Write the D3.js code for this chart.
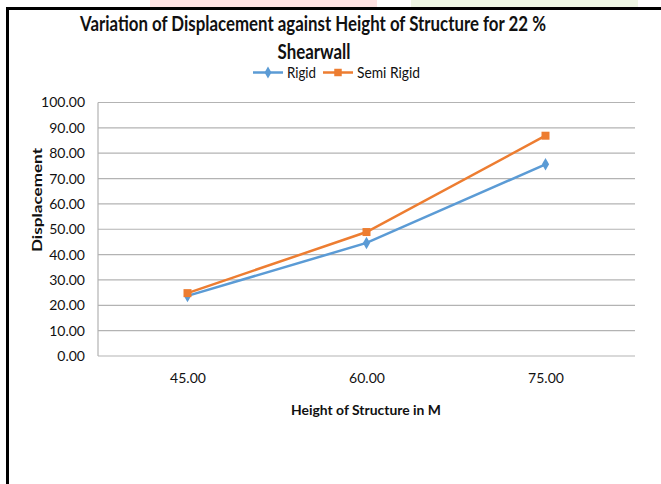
<!DOCTYPE html>
<html><head><meta charset="utf-8">
<script src="https://cdn.jsdelivr.net/npm/d3@7"></script>
<style>body{margin:0;background:#fff}svg{display:block}</style>
</head><body>
<script>
const categories = ["45.00", "60.00", "75.00"];
const rigid = [23.7, 44.6, 75.6];
const semiRigid = [24.8, 48.9, 86.9];
const yTicks = [0,10,20,30,40,50,60,70,80,90,100];
const titleLines = ["Variation of Displacement against Height of Structure for 22 %", "Shearwall"];

const W = 661, H = 484;
const font = "Lato, 'Open Sans', sans-serif";
const svg = d3.select("body").append("svg").attr("width", W).attr("height", H);

// faint watermark strip above border
svg.append("rect").attr("x",150).attr("y",0).attr("width",227).attr("height",7).attr("fill","#fde2e2");
svg.append("rect").attr("x",411).attr("y",0).attr("width",227).attr("height",7).attr("fill","#eef6e4");

// border
svg.append("rect").attr("x",6).attr("y",7).attr("width",W).attr("height",3).attr("fill","#000");
svg.append("rect").attr("x",6).attr("y",7).attr("width",3).attr("height",H).attr("fill","#000");

const x = d3.scalePoint().domain(categories).range([98, 635]).padding(0.5);
const y = d3.scaleLinear().domain([0, 100]).range([356, 102.5]);

// gridlines
svg.append("g").selectAll("line").data(yTicks).join("line")
  .attr("x1", 98).attr("x2", 635)
  .attr("y1", d => y(d)).attr("y2", d => y(d))
  .attr("stroke", "#b3b3b3").attr("stroke-width", 1.2);
svg.append("line").attr("x1",98).attr("x2",98).attr("y1",y(100)).attr("y2",y(0))
  .attr("stroke","#b3b3b3").attr("stroke-width",1.2);

// y tick labels
const yAxis = d3.axisLeft(y).tickValues(yTicks).tickFormat(d3.format(".2f")).tickSize(0).tickPadding(13);
const gy = svg.append("g").attr("transform","translate(98,0)").call(yAxis);
gy.select(".domain").remove();
gy.selectAll("text").attr("font-family", font).attr("font-size", 14).attr("fill", "#111");

// x tick labels
const xAxis = d3.axisBottom(x).tickSize(0).tickPadding(17);
const gx = svg.append("g").attr("transform","translate(0,356)").call(xAxis);
gx.select(".domain").remove();
gx.selectAll("text").attr("font-family", font).attr("font-size", 14).attr("fill", "#111");

// lines
const series = [
  {name: "Rigid", values: rigid, color: "#5b9bd5", marker: "diamond"},
  {name: "Semi Rigid", values: semiRigid, color: "#ed7d31", marker: "square"}
];
const line = d3.line().x((d,i) => x(categories[i])).y(d => y(d));
series.forEach(s => {
  svg.append("path").datum(s.values).attr("d", line)
    .attr("fill","none").attr("stroke", s.color).attr("stroke-width", 2.5);
  const sym = d3.symbol().type(s.marker === "diamond" ? d3.symbolDiamond : d3.symbolSquare)
    .size(s.marker === "diamond" ? 45 : 64);
  svg.append("g").selectAll("path").data(s.values).join("path")
    .attr("d", sym)
    .attr("transform", (d,i) => `translate(${x(categories[i])},${y(d)})`)
    .attr("fill", s.color);
});

// title
svg.append("text").attr("x", 313).attr("y", 31).attr("text-anchor","middle")
  .attr("font-family", font).attr("font-weight","bold").attr("font-size", 20).attr("fill","#111")
  .attr("textLength", 466).attr("lengthAdjust","spacingAndGlyphs").text(titleLines[0]);
svg.append("text").attr("x", 314).attr("y", 59).attr("text-anchor","middle")
  .attr("font-family", font).attr("font-weight","bold").attr("font-size", 20).attr("fill","#111")
  .attr("textLength", 73).attr("lengthAdjust","spacingAndGlyphs")
  .text(titleLines[1]);

// legend
const legendX = [253, 323];
const legendW = [29, 63];
series.forEach((s, i) => {
  const lx = legendX[i], ly = 72.5;
  svg.append("line").attr("x1", lx).attr("x2", lx + 30).attr("y1", ly).attr("y2", ly)
    .attr("stroke", s.color).attr("stroke-width", 2.5);
  const sym = d3.symbol().type(s.marker === "diamond" ? d3.symbolDiamond : d3.symbolSquare)
    .size(s.marker === "diamond" ? 40 : 56);
  svg.append("path").attr("d", sym).attr("transform", `translate(${lx+15},${ly})`).attr("fill", s.color);
  svg.append("text").attr("x", lx + 34).attr("y", 78).attr("font-family", font)
    .attr("font-size", 15.5).attr("fill","#111")
    .attr("textLength", legendW[i]).attr("lengthAdjust","spacingAndGlyphs").text(s.name);
});

// axis titles
svg.append("text").attr("x", 366).attr("y", 415).attr("text-anchor","middle")
  .attr("font-family", font).attr("font-weight","bold").attr("font-size", 14).attr("fill","#111")
  .attr("textLength", 150).attr("lengthAdjust","spacingAndGlyphs")
  .text("Height of Structure in M");
svg.append("text").attr("transform","translate(42,200) rotate(-90)").attr("text-anchor","middle")
  .attr("font-family", font).attr("font-weight","bold").attr("font-size", 14).attr("fill","#111")
  .attr("textLength", 104).attr("lengthAdjust","spacingAndGlyphs")
  .text("Displacement");
</script>
</body></html>
